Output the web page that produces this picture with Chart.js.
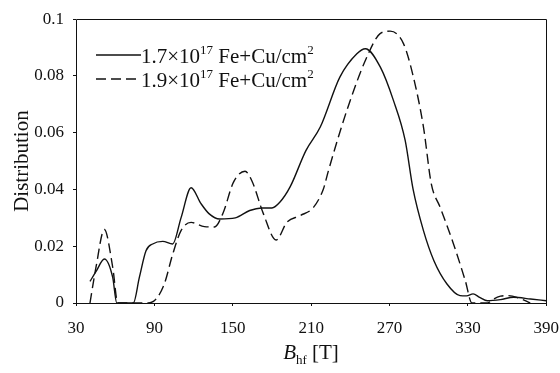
<!DOCTYPE html>
<html>
<head>
<meta charset="utf-8">
<script src="https://cdn.jsdelivr.net/npm/chart.js@4/dist/chart.umd.min.js"></script>
<style>
  html, body { margin: 0; padding: 0; background: #fff; }
  #wrap { width: 560px; height: 373px; }
</style>
</head>
<body>
<div id="wrap"><canvas id="c" width="560" height="373"></canvas></div>
<script>
// ---- Data ----
const seriesLabels = ['1.7×10^{17} Fe+Cu/cm^{2}', '1.9×10^{17} Fe+Cu/cm^{2}'];

const solidB = [40.7, 45.5, 51.7, 58.1, 61.2, 66, 73.9, 78.5, 83.6, 88.7, 96.4, 104, 110.4, 118.1, 125.7, 132, 140, 152, 163, 172, 180, 186, 194, 206, 217, 232, 245, 251.5, 263, 273, 282, 288, 296, 304, 314, 324, 329, 334, 339, 345, 355, 365, 378, 390];
const solidV = [0.0076, 0.0112, 0.0155, 0.009, 0, 0, 0, 0.009, 0.0184, 0.0208, 0.0217, 0.0208, 0.030, 0.0406, 0.035, 0.0314, 0.0296, 0.0300, 0.0326, 0.0335, 0.0335, 0.0355, 0.041, 0.0537, 0.062, 0.0796, 0.0878, 0.0896, 0.0831, 0.0714, 0.0573, 0.0402, 0.0255, 0.0149, 0.0067, 0.0026, 0.0025, 0.0032, 0.002, 0.0008, 0.0012, 0.002, 0.0014, 0.0008];

const dashedB = [40.7, 45.3, 51.7, 58.1, 62, 70, 85, 91.3, 97.6, 104.1, 110.4, 118.1, 128.3, 136, 142.6, 150.5, 159.4, 164.6, 173.5, 183.2, 191.4, 201.6, 211.8, 219.4, 223.3, 237.3, 252.6, 262.8, 270.5, 280.7, 288.3, 296, 302, 308.8, 319, 328, 333.1, 345, 349.6, 355, 360, 367.5, 377.7];
const dashedV = [0, 0.0126, 0.0259, 0.0126, 0, 0, 0, 0.0014, 0.0067, 0.0173, 0.0255, 0.0284, 0.0269, 0.0268, 0.0317, 0.0425, 0.0464, 0.0431, 0.0314, 0.0222, 0.0284, 0.0308, 0.0337, 0.0402, 0.0467, 0.0678, 0.0866, 0.0949, 0.0958, 0.0914, 0.0796, 0.062, 0.0420, 0.0337, 0.0208, 0.0079, 0, 0, 0.0014, 0.0024, 0.0026, 0.002, 0];

const xTicks = [30, 90, 150, 210, 270, 330, 390];
const yTicks = [0, 0.02, 0.04, 0.06, 0.08, 0.1];
const yTickLabels = ['0', '0.02', '0.04', '0.06', '0.08', '0.1'];
const xAxisTitle = 'B_{hf} [T]';
const yAxisTitle = 'Distribution';

// ---- helpers ----
const SERIF = '"Liberation Serif", "DejaVu Serif", serif';
const toPts = (xs, ys) => xs.map((x, i) => ({ x: x, y: ys[i] }));

function parseRich(str) {
  const parts = [];
  const re = /(\^|_)\{([^}]*)\}/g;
  let last = 0, m;
  while ((m = re.exec(str)) !== null) {
    if (m.index > last) parts.push({ t: str.slice(last, m.index), mode: 'n' });
    parts.push({ t: m[2], mode: m[1] === '^' ? 'sup' : 'sub' });
    last = re.lastIndex;
  }
  if (last < str.length) parts.push({ t: str.slice(last), mode: 'n' });
  return parts;
}

function drawRich(ctx, str, x, y, size, opts) {
  opts = opts || {};
  const parts = parseRich(str);
  let total = 0;
  const fontFor = (p, idx) => {
    const italic = opts.italicFirst && idx === 0 ? 'italic ' : '';
    const s = p.mode === 'n' ? size : size * 0.62;
    return italic + s + 'px ' + SERIF;
  };
  parts.forEach((p, i) => { ctx.font = fontFor(p, i); total += ctx.measureText(p.t).width; });
  let cx = opts.center ? x - total / 2 : x;
  ctx.textBaseline = 'alphabetic';
  ctx.textAlign = 'left';
  parts.forEach((p, i) => {
    ctx.font = fontFor(p, i);
    let dy = 0;
    if (p.mode === 'sup') dy = -size * 0.42;
    if (p.mode === 'sub') dy = size * 0.22;
    ctx.fillText(p.t, cx, y + dy);
    cx += ctx.measureText(p.t).width;
  });
}

const decorPlugin = {
  id: 'decor',
  afterDraw(chart) {
    const ctx = chart.ctx;
    const xs = chart.scales.x, ys = chart.scales.y;
    const L = Math.round(xs.getPixelForValue(xs.min)), R = Math.round(xs.getPixelForValue(xs.max));
    const T = Math.round(ys.getPixelForValue(ys.max)), B = Math.round(ys.getPixelForValue(ys.min));
    ctx.save();
    // frame
    ctx.strokeStyle = '#111';
    ctx.lineWidth = 1;
    ctx.beginPath();
    ctx.moveTo(L + 0.5, T + 0.5);
    ctx.lineTo(R + 0.5, T + 0.5);
    ctx.lineTo(R + 0.5, B + 0.5);
    ctx.lineTo(L + 0.5, B + 0.5);
    ctx.closePath();
    ctx.stroke();
    // legend
    ctx.fillStyle = '#111';
    const rows = [{ y: 55 }, { y: 79 }];
    chart.data.datasets.forEach((ds, i) => {
      const r = rows[i];
      ctx.beginPath();
      ctx.setLineDash(ds.borderDash || []);
      ctx.lineWidth = 1.3;
      ctx.strokeStyle = '#111';
      ctx.moveTo(96, r.y);
      ctx.lineTo(141, r.y);
      ctx.stroke();
      ctx.setLineDash([]);
      drawRich(ctx, seriesLabels[i], 141, r.y + 8, 21);
    });
    // x axis title
    drawRich(ctx, xAxisTitle, (L + R) / 2, 359, 21, { center: true, italicFirst: true });
    ctx.restore();
  }
};

new Chart(document.getElementById('c'), {
  type: 'line',
  data: {
    datasets: [
      {
        label: seriesLabels[0].replace(/\^\{17\}/, '¹⁷').replace(/\^\{2\}/, '²'),
        data: toPts(solidB, solidV),
        borderColor: '#111',
        borderWidth: 1.4,
        pointRadius: 0,
        fill: false,
        cubicInterpolationMode: 'monotone'
      },
      {
        label: seriesLabels[1].replace(/\^\{17\}/, '¹⁷').replace(/\^\{2\}/, '²'),
        data: toPts(dashedB, dashedV),
        borderColor: '#111',
        borderWidth: 1.4,
        borderDash: [10, 5],
        pointRadius: 0,
        fill: false,
        cubicInterpolationMode: 'monotone'
      }
    ]
  },
  options: {
    responsive: false,
    animation: false,
    devicePixelRatio: 1,
    layout: { padding: { left: 0, right: 0, top: 19, bottom: 0 } },
    plugins: { legend: { display: false }, tooltip: { enabled: false } },
    scales: {
      x: {
        type: 'linear',
        min: 30,
        max: 390,
        afterBuildTicks: (s) => { s.ticks = xTicks.map(v => ({ value: v })); },
        afterFit: (s) => { s.height = 70; },
        grid: { drawOnChartArea: false, drawTicks: true, tickLength: 14, tickBorderDash: [3, 40], color: '#111' },
        border: { display: false },
        ticks: { color: '#111', font: { family: SERIF, size: 17 }, padding: 1, maxRotation: 0 },
        title: { display: false }
      },
      y: {
        min: 0,
        max: 0.1,
        afterBuildTicks: (s) => { s.ticks = yTicks.map(v => ({ value: v })); },
        afterFit: (s) => { s.width = 76; },
        grid: { drawOnChartArea: false, drawTicks: true, tickLength: 3, color: '#111' },
        border: { display: false },
        ticks: {
          color: '#111',
          font: { family: SERIF, size: 17 },
          padding: 9,
          callback: (v) => { const i = yTicks.findIndex(t => Math.abs(t - v) < 1e-9); return i >= 0 ? yTickLabels[i] : ''; }
        },
        title: {
          display: true,
          text: yAxisTitle,
          color: '#111',
          font: { family: SERIF, size: 21 },
          padding: { top: 10, bottom: 0 }
        }
      }
    }
  },
  plugins: [decorPlugin]
});
</script>
</body>
</html>
